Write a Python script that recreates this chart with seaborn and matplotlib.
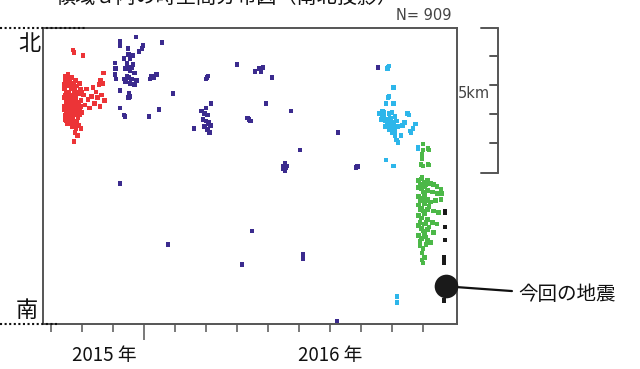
import numpy as np
import pandas as pd
import matplotlib.pyplot as plt
from matplotlib.lines import Line2D
from matplotlib.ticker import FixedLocator
import seaborn as sns

sns.set_theme(style="white")
plt.rcParams['font.family'] = ['Noto Sans CJK JP', 'DejaVu Sans']

# 横軸: 月 (0 = 2014年12月頃の目盛), 縦軸: 南北方向の距離 (km, 南が0)
red_pts = [
    (0.42, 15.0), (0.42, 15.6), (0.44, 16.2), (0.45, 14.4), (0.47, 16.8), (0.48, 15.3),
    (0.50, 14.0), (0.50, 15.9), (0.52, 16.5), (0.53, 14.7), (0.55, 15.5), (0.55, 17.2),
    (0.57, 14.2), (0.58, 16.0), (0.60, 15.2), (0.60, 16.7), (0.62, 14.6), (0.63, 15.7),
    (0.65, 13.9), (0.65, 16.3), (0.67, 15.0), (0.68, 17.0), (0.70, 14.3), (0.70, 15.8),
    (0.72, 16.5), (0.73, 14.9), (0.75, 15.4), (0.77, 13.8), (0.77, 16.1), (0.80, 14.5),
    (0.80, 15.6), (0.83, 16.4), (0.85, 15.0), (0.87, 14.2), (0.88, 15.9), (0.90, 13.7),
    (0.92, 14.8), (0.95, 16.2), (0.97, 15.4), (1.00, 14.6), (0.46, 15.8), (0.52, 15.1),
    (0.58, 14.8), (0.64, 15.4), (0.70, 16.2), (0.76, 14.7), (0.44, 14.8), (0.56, 16.4),
    (0.43, 16.5), (0.47, 14.1), (0.49, 16.0), (0.51, 15.4), (0.54, 16.9), (0.56, 14.5),
    (0.59, 15.5), (0.61, 16.4), (0.62, 13.9), (0.66, 15.3), (0.66, 14.3), (0.69, 16.6),
    (0.71, 15.1), (0.74, 16.0), (0.76, 15.7), (0.78, 14.4), (0.79, 16.8), (0.82, 15.3),
    (0.84, 14.0), (0.86, 16.0), (0.89, 15.2), (0.91, 16.6), (0.93, 14.4), (0.96, 15.0),
    (0.98, 16.0), (0.45, 17.1), (0.53, 13.8), (0.68, 13.6), (0.81, 13.5), (0.48, 14.6),
    (0.55, 15.0), (0.63, 15.0), (0.72, 14.0), (0.88, 14.6),
    (1.05, 15.8), (1.10, 15.1), (1.15, 16.2), (1.20, 15.5), (1.25, 14.9), (1.30, 15.7),
    (1.35, 16.3), (1.40, 15.2), (1.45, 16.0), (1.50, 15.6), (1.55, 16.5), (1.58, 15.0),
    (1.62, 15.8), (1.68, 16.6), (1.72, 15.4), (1.70, 17.3), (1.60, 16.8),
    (0.71, 18.9), (0.74, 18.7), (1.03, 18.5), (0.77, 13.2), (0.74, 12.6), (0.97, 13.5),
    (0.85, 13.0),
]
purple_pts = [
    (2.23, 19.5), (2.23, 19.2), (2.74, 19.8), (2.97, 19.2), (2.94, 19.0), (3.58, 19.4),
    (2.48, 19.0), (2.84, 18.8),
    (2.35, 18.3), (2.45, 18.0), (2.55, 18.3), (2.65, 17.9), (2.40, 17.6), (2.55, 17.5),
    (2.70, 17.3), (2.45, 17.1), (2.60, 16.9), (2.75, 16.8), (2.40, 16.7), (2.55, 16.6),
    (2.70, 16.5), (2.50, 18.6), (2.65, 18.5), (2.45, 17.8), (2.60, 17.7), (2.50, 17.0),
    (2.35, 16.9),
    (2.06, 18.0), (2.08, 17.6), (2.06, 17.2), (2.10, 16.9),
    (2.23, 16.1), (2.52, 15.9), (2.55, 15.7), (2.50, 15.6),
    (3.19, 16.9), (3.30, 17.0), (3.40, 17.2), (3.25, 17.1),
    (3.94, 15.9), (3.48, 14.8), (3.16, 14.3), (2.23, 14.9), (2.39, 14.3), (2.35, 14.4),
    (6.00, 17.9), (6.58, 17.4), (6.77, 17.4), (6.71, 17.6), (6.84, 17.7), (7.13, 17.0),
    (6.94, 15.2), (7.74, 14.7),
    (5.03, 17.0), (5.00, 16.9), (5.06, 17.1),
    (5.16, 15.2), (5.00, 14.9),
    (4.85, 14.7), (4.95, 14.5), (5.05, 14.4), (4.90, 14.1), (5.00, 14.0), (5.10, 13.9),
    (5.15, 13.7), (4.95, 13.6), (5.05, 13.4), (5.12, 13.2), (5.08, 13.8),
    (4.61, 13.5),
    (6.39, 14.1), (6.35, 14.2), (6.43, 14.0),
    (9.26, 13.2), (8.03, 12.0),
    (7.50, 10.9), (7.55, 11.1), (7.58, 10.8), (7.55, 10.6), (7.62, 10.9), (7.50, 10.7),
    (9.84, 10.8), (9.88, 10.85),
    (2.23, 9.7), (3.77, 5.5), (6.16, 4.1), (6.48, 6.4), (8.13, 4.8), (8.13, 4.5),
    (9.23, 0.2), (10.55, 17.7),
]
cyan_pts = [
    (10.87, 17.7), (10.90, 17.8), (10.85, 17.6),
    (11.06, 16.3), (10.87, 15.6), (10.90, 15.7), (10.81, 15.2), (11.06, 15.2),
    (10.60, 14.5), (10.70, 14.7), (10.75, 14.3), (10.65, 14.1), (10.80, 14.0), (10.90, 14.5),
    (10.95, 14.2), (11.00, 13.9), (10.85, 13.8), (11.05, 13.5), (11.00, 13.2), (11.10, 13.0),
    (11.15, 12.7), (11.20, 12.5), (10.90, 13.4), (11.10, 14.3), (11.15, 14.0), (11.20, 13.6),
    (10.75, 14.6), (10.85, 14.1), (10.95, 13.7), (11.05, 13.8), (10.70, 14.2), (11.00, 14.6),
    (11.10, 13.3), (10.80, 13.6),
    (11.55, 14.4), (11.50, 14.5), (11.35, 13.7), (11.40, 13.9),
    (11.77, 13.8), (11.68, 13.5), (11.61, 13.2), (11.58, 13.3),
    (11.29, 13.0), (11.84, 12.2), (11.84, 12.1),
    (10.81, 11.3), (11.06, 10.9),
    (11.16, 1.9), (11.16, 1.5),
]
green_pts = [
    (12.00, 12.4), (12.16, 12.1), (12.20, 12.0), (12.00, 12.0),
    (11.97, 11.7), (11.97, 11.4),
    (11.94, 11.0), (12.00, 10.9), (12.16, 11.0), (12.20, 10.95),
    (11.97, 10.1),
    (11.85, 9.9), (11.95, 10.0), (12.05, 9.8), (12.15, 9.9), (12.25, 9.7), (12.35, 9.6), (12.45, 9.5),
    (11.85, 9.4), (11.95, 9.3), (12.05, 9.5), (12.15, 9.2), (12.30, 9.1), (12.45, 9.0),
    (12.58, 9.3), (12.60, 9.0),
    (11.85, 8.8), (11.95, 8.7), (12.05, 8.9), (12.15, 8.6), (12.25, 8.4), (12.40, 8.5), (12.58, 8.6),
    (11.85, 8.2), (11.95, 8.0), (12.05, 8.3), (12.15, 7.9), (12.35, 7.8), (12.50, 7.7),
    (11.85, 7.5), (11.95, 7.3), (12.05, 7.6), (12.15, 7.2), (12.30, 7.0), (12.45, 6.9),
    (11.85, 6.8), (11.95, 6.6), (12.05, 6.9), (12.15, 6.5), (12.35, 6.3),
    (11.85, 6.1), (11.95, 5.9), (12.05, 6.2), (12.15, 5.8), (12.25, 5.6),
    (11.90, 5.4), (12.00, 5.2), (12.10, 5.5),
    (11.90, 9.6), (12.00, 9.1), (12.10, 8.5), (11.90, 8.5), (12.00, 7.8), (12.10, 7.0),
    (11.90, 7.0), (12.00, 6.4), (12.10, 6.0), (11.90, 5.7), (12.20, 8.1), (12.20, 6.7),
    (12.00, 8.6), (12.10, 9.6), (11.90, 7.9),
    (11.97, 4.9), (12.05, 4.6), (11.97, 4.4), (12.00, 4.2),
]
black_pts = [
    (12.71, 7.8), (12.71, 7.7), (12.71, 6.7), (12.71, 5.8),
    (12.68, 4.6), (12.68, 4.4), (12.68, 4.2), (12.68, 1.6),
]
main_shock = [(12.74, 2.6)]

year_labels = ["2015 年", "2016 年"]
year_label_pos = [1.71, 9.0]
month_ticks = list(range(13))
n_events = 909

colors = {"red": "#ec3437", "purple": "#3b2b8e", "cyan": "#2db6ea",
          "green": "#4cb848", "black": "#1a1a1a"}

frames = []
for name, pts in [("red", red_pts), ("purple", purple_pts), ("cyan", cyan_pts),
                  ("green", green_pts), ("black", black_pts)]:
    d = pd.DataFrame(pts, columns=["month", "km"])
    d["group"] = name
    frames.append(d)
df = pd.concat(frames, ignore_index=True)
shock = pd.DataFrame(main_shock, columns=["month", "km"])

fig = plt.figure(figsize=(6.4, 3.69), dpi=100)
W, H = 640, 369
ax = fig.add_axes([43 / W, 1 - 324 / H, (457 - 43) / W, (324 - 28) / H])

sns.scatterplot(data=df, x="month", y="km", hue="group", palette=colors,
                marker="s", s=11, linewidth=0, legend=False, ax=ax)
sns.scatterplot(data=shock, x="month", y="km", color="#1a1a1a", marker="o",
                s=290, linewidth=0, legend=False, ax=ax, clip_on=False, zorder=5)

ax.set_xlim(-0.258, 13.10)
ax.set_ylim(0, 20.41)
ax.set_xlabel("")
ax.set_ylabel("")
ax.set_yticks([])

frame_col = "#555555"
for sp in ax.spines.values():
    sp.set_color(frame_col)
    sp.set_linewidth(1.4)

ax.xaxis.set_major_locator(FixedLocator([3]))
ax.xaxis.set_minor_locator(FixedLocator([m for m in month_ticks if m != 3]))
ax.tick_params(axis="x", which="major", direction="out", length=11.5, width=1.1,
               color=frame_col, labelbottom=False, bottom=True)
ax.tick_params(axis="x", which="minor", direction="out", length=5.8, width=1.1,
               color=frame_col, bottom=True)

for lab, xp in zip(year_labels, year_label_pos):
    ax.text(xp, -0.105, lab, transform=ax.get_xaxis_transform(), ha="center",
            va="center", fontsize=13.5, color="#111111")

# 北・南
fig.text(29 / W, 1 - 43 / H, "北", fontsize=16, ha="center", va="center", color="#111111")
fig.text(27 / W, 1 - 310 / H, "南", fontsize=16, ha="center", va="center", color="#111111")

# dotted guide lines
fig.add_artist(Line2D([0, 85 / W], [1 - 27.5 / H] * 2, color="#111111", lw=1.5,
                      linestyle=(0, (1, 1.2))))
fig.add_artist(Line2D([0, 57 / W], [1 - 324 / H] * 2, color="#111111", lw=1.5,
                      linestyle=(0, (1, 1.2))))

# title (cut off at the top edge, as in the source figure)
fig.text(56 / W, 1 + 3 / H, "領域ａ内の時空間分布図（南北投影）", fontsize=14.5,
         ha="left", va="center", color="#111111")
fig.text(452 / W, 1 - 15 / H, f"N= {n_events}", fontsize=10.5, ha="right",
         va="center", color="#444444", family=["DejaVu Sans"])

# scale bar
sb_x = 498 / W
fig.add_artist(Line2D([sb_x, sb_x], [1 - 28 / H, 1 - 173 / H], color=frame_col, lw=1.4))
for yy, x0 in [(28, 481), (173, 481), (56, 490), (85, 490), (114, 490), (143, 490)]:
    fig.add_artist(Line2D([x0 / W, sb_x], [1 - yy / H] * 2, color=frame_col, lw=1.4))
fig.text(490 / W, 1 - 86 / H, "5km", fontsize=10.5, ha="right", va="top",
         color="#444444", family=["DejaVu Sans"])

# 今回の地震
ax.annotate("今回の地震", xy=(main_shock[0][0], main_shock[0][1]), xycoords="data",
            xytext=(518 / W, 1 - 295 / H), textcoords="figure fraction",
            fontsize=14, ha="left", va="center", color="#111111",
            arrowprops=dict(arrowstyle="-", color="#111111", lw=1.6,
                            shrinkA=2, shrinkB=8))

fig.savefig("out.png", dpi=100)
